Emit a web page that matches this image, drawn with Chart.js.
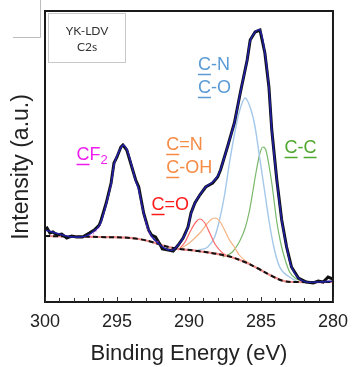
<!DOCTYPE html>
<html>
<head>
<meta charset="utf-8">
<script src="https://cdn.jsdelivr.net/npm/chart.js@4.4.1/dist/chart.umd.min.js"></script>
<style>
  html, body { margin: 0; padding: 0; background: #ffffff; }
  #wrap { position: relative; width: 357px; height: 367px; }
</style>
</head>
<body>
<div id="wrap"><canvas id="c"></canvas></div>
<script>
// ---- X tick labels ----
const tickLabels = [300, 295, 290, 285, 280];

// ---- Measured spectrum (black) ----
const dataE = [300.00, 299.86, 299.66, 299.45, 299.18, 298.84, 298.49, 298.15, 297.81, 297.40, 296.92, 296.58, 296.23, 296.10, 295.75, 295.41, 295.21, 295.00, 294.73, 294.59, 294.32, 293.97, 293.70, 293.49, 293.15, 292.81, 292.60, 292.33, 291.99, 291.85, 291.44, 291.10, 290.75, 290.41, 290.07, 289.86, 289.59, 289.25, 288.84, 288.36, 288.01, 287.81, 287.33, 286.85, 286.44, 285.96, 285.75, 285.41, 285.07, 284.73, 284.45, 284.25, 283.90, 283.56, 283.22, 282.88, 282.40, 281.85, 281.37, 281.03, 280.68, 280.34, 280.00];
const dataI = [73, 74, 69, 70, 67, 68, 64, 66, 65, 65, 69, 72, 77, 82, 99, 119, 139, 145, 155, 157, 152, 135, 122, 115, 89, 72, 67, 65, 57, 53, 52, 51, 57, 64, 75, 89, 99, 107, 115, 119, 125, 132, 155, 179, 209, 242, 262, 270, 272, 249, 215, 172, 122, 82, 55, 35, 24, 20, 19, 21, 20, 25, 23];

// ---- Fitted envelope (dark blue) ----
const envE = [300.0, 299.5, 299.0, 298.5, 298.0, 297.5, 297.0, 296.6, 296.2, 295.75, 295.4, 295.2, 295.0, 294.7, 294.55, 294.3, 293.95, 293.7, 293.5, 293.15, 292.8, 292.5, 292.0, 291.6, 291.1, 290.75, 290.4, 290.07, 289.86, 289.59, 289.25, 288.84, 288.36, 288.0, 287.8, 287.33, 286.85, 286.44, 285.96, 285.75, 285.41, 285.07, 284.73, 284.45, 284.25, 283.9, 283.56, 283.22, 282.88, 282.4, 281.85, 281.0, 280.0];
const envI = [72, 70, 68, 66, 65, 65, 67, 71, 77, 98, 119, 138, 146, 155, 157, 152, 135, 121, 113, 89, 72, 64, 57, 53, 52, 57, 64, 75, 88, 99, 107, 115, 120, 126, 133, 155, 179, 209, 242, 261, 270, 272, 249, 215, 172, 122, 82, 55, 35, 24, 20, 20, 21];

// ---- Background (Shirley) ----
const bgE = [300.00, 296.23, 293.49, 291.10, 289.38, 287.33, 286.30, 285.27, 284.38, 283.42, 282.53, 280.00];
const bgI = [66, 65, 63, 54, 51, 46, 41, 34, 27, 21, 20, 20];

// ---- Components ----
const cf2E = [296.9, 296.5, 296.2, 295.75, 295.4, 295.2, 295.0, 294.7, 294.55, 294.3, 293.95, 293.7, 293.5, 293.15, 292.8, 292.5, 292.1];
const cf2I = [65, 70, 76, 98, 118, 137, 146, 155, 157, 152, 135, 121, 113, 88, 70, 63, 60];

const coE = [290.75, 290.27, 289.86, 289.52, 289.25, 288.90, 288.56, 288.15, 287.67, 287.33, 286.64];
const coI = [52, 60, 72, 80, 83, 79, 69, 57, 49, 46, 43];

const cnE = [290.75, 290.07, 289.59, 289.18, 288.70, 288.42, 288.15, 287.88, 287.53, 287.19, 286.85, 286.51, 285.96, 285.27];
const cnI = [52, 58, 64, 70, 79, 83, 84, 81, 72, 62, 55, 47, 40, 34];

const coxE = [289.38, 288.70, 288.22, 287.88, 287.53, 287.19, 286.85, 286.51, 286.10, 285.69, 285.41, 285.14, 284.79, 284.45, 284.11, 283.70, 283.01, 282.53];
const coxI = [52, 55, 65, 82, 107, 139, 167, 190, 204, 192, 175, 149, 115, 82, 55, 35, 25, 21];

const ccE = [287.67, 286.99, 286.44, 286.10, 285.82, 285.55, 285.34, 285.07, 284.86, 284.66, 284.45, 284.25, 283.90, 283.63, 283.36, 283.01, 282.53, 281.85];
const ccI = [45, 50, 62, 74, 90, 112, 130, 149, 155, 152, 137, 119, 80, 59, 44, 30, 23, 20];

// ---- Annotation labels (anchored in data coordinates) ----
const labelTexts = ['CF', 'C=O', 'C=N', 'C-OH', 'C-N', 'C-O', 'C-C'];
const labelE = [297.81, 292.60, 291.58, 291.58, 289.38, 289.38, 283.36];
const labelI = [147, 97, 157, 134, 237, 214, 154];
const labelColors = ['#ee1fee', '#ff1a1a', '#f58b45', '#f58b45', '#5b9bd5', '#5b9bd5', '#4ea72e'];

const yTitle = 'Intensity (a.u.)';

function pts(xs, ys) { return xs.map((x, i) => ({ x: x, y: ys[i] })); }

const framePlugin = {
  id: 'frame',
  afterDatasetsDraw(chart) {
    const { ctx, chartArea: a, scales } = chart;
    const xs = scales.x, ys = scales.y;
    ctx.save();
    // component labels
    ctx.textBaseline = 'middle';
    ctx.textAlign = 'left';
    labelTexts.forEach((t, i) => {
      const px = xs.getPixelForValue(labelE[i]);
      const py = ys.getPixelForValue(labelI[i]);
      ctx.font = '18px "Liberation Sans", Arial, sans-serif';
      ctx.fillStyle = labelColors[i];
      ctx.fillText(t, px, py);
      const wC = ctx.measureText('C').width;
      ctx.strokeStyle = labelColors[i];
      ctx.lineWidth = 1.5;
      ctx.beginPath();
      ctx.moveTo(px, py + 9.5); ctx.lineTo(px + wC, py + 9.5);
      if (t === 'C-C') {
        const off = ctx.measureText('C-').width;
        ctx.moveTo(px + off, py + 9.5); ctx.lineTo(px + off + wC, py + 9.5);
      }
      ctx.stroke();
      if (t === 'CF') {
        const w = ctx.measureText('CF').width;
        ctx.font = '13px "Liberation Sans", Arial, sans-serif';
        ctx.fillText('2', px + w, py + 5);
      }
    });
    // frame
    ctx.strokeStyle = '#1a1a1a';
    ctx.lineWidth = 2;
    ctx.strokeRect(a.left, a.top, a.right - a.left, a.bottom - a.top);
    // inward ticks
    ctx.lineWidth = 1;
    ctx.strokeStyle = '#333';
    for (let v = 280; v <= 300; v++) {
      const px = Math.round(xs.getPixelForValue(v)) + 0.5;
      ctx.beginPath();
      ctx.moveTo(px, a.bottom);
      ctx.lineTo(px, a.bottom - (v % 5 === 0 ? 5 : 4));
      ctx.stroke();
    }
    // y-axis title
    ctx.save();
    ctx.translate(22, 167);
    ctx.rotate(-Math.PI / 2);
    ctx.textAlign = 'center';
    ctx.textBaseline = 'middle';
    ctx.fillStyle = '#222';
    ctx.font = '23px "Liberation Sans", Arial, sans-serif';
    ctx.fillText(yTitle, 0, 0);
    ctx.restore();
    // sample legend box
    ctx.strokeStyle = '#c8c8c8';
    ctx.strokeRect(48.5, 13.5, 77, 49);
    ctx.fillStyle = '#333';
    ctx.font = '12px Lato, "Liberation Sans", sans-serif';
    ctx.textAlign = 'center';
    ctx.fillText('YK-LDV', 87, 31);
    ctx.fillText('C2s', 87, 47);
    // stray gray lines (top-left)
    ctx.strokeStyle = '#bdbdbd';
    ctx.beginPath();
    ctx.moveTo(13, 37.5); ctx.lineTo(40.5, 37.5); ctx.lineTo(40.5, 0);
    ctx.stroke();
    ctx.restore();
  }
};

const lineDs = (label, d, color, width, order, extra) => Object.assign({
  label: label, data: d, borderColor: color, borderWidth: width, pointRadius: 0,
  fill: false, order: order, tension: 0
}, extra || {});

new Chart(document.getElementById('c'), {
  type: 'line',
  data: {
    datasets: [
      lineDs('envelope', pts(envE, envI), '#1f1fa0', 1.6, 1, { tension: 0.3 }),
      lineDs('CF2', pts(cf2E, cf2I), '#e040e0', 1.0, 2, { tension: 0.3, borderDash: [2, 2] }),
      lineDs('data', pts(dataE, dataI), '#111111', 3, 3),
      lineDs('background dash', pts(bgE, bgI), '#111111', 2, 4, { tension: 0.4, borderDash: [5, 3] }),
      lineDs('background', pts(bgE, bgI), '#f08a8a', 2.2, 5, { tension: 0.4 }),
      lineDs('C=O', pts(coE, coI), '#ff6b6b', 1.2, 6, { cubicInterpolationMode: 'monotone' }),
      lineDs('C=N C-OH', pts(cnE, cnI), '#f5b486', 1.2, 7, { cubicInterpolationMode: 'monotone' }),
      lineDs('C-N C-O', pts(coxE, coxI), '#a4c8ea', 1.4, 8, { cubicInterpolationMode: 'monotone' }),
      lineDs('C-C', pts(ccE, ccI), '#79b86a', 1.2, 9, { cubicInterpolationMode: 'monotone' })
    ]
  },
  options: {
    responsive: true,
    maintainAspectRatio: false,
    animation: false,
    layout: { padding: { left: 0, right: 20, top: 11, bottom: 0 } },
    plugins: { legend: { display: false }, tooltip: { enabled: false } },
    scales: {
      x: {
        type: 'linear', min: 280, max: 300, reverse: true,
        grid: { display: false, drawTicks: false },
        border: { display: false },
        afterBuildTicks: (s) => { s.ticks = tickLabels.map(v => ({ value: v })); },
        afterFit: (s) => { s.height = 65; },
        ticks: { color: '#222', font: { family: '"Liberation Sans", Arial, sans-serif', size: 18 }, padding: 9, maxRotation: 0, autoSkip: false },
        title: { display: true, text: 'Binding Energy (eV)', color: '#222', font: { family: '"Liberation Sans", Arial, sans-serif', size: 22 }, padding: { top: 0, bottom: 0 } }
      },
      y: {
        type: 'linear', min: 0, max: 291,
        grid: { display: false, drawTicks: false },
        border: { display: false },
        ticks: { display: false },
        afterFit: (s) => { s.width = 45; },
        title: { display: false }
      }
    }
  },
  plugins: [framePlugin]
});
</script>
</body>
</html>
